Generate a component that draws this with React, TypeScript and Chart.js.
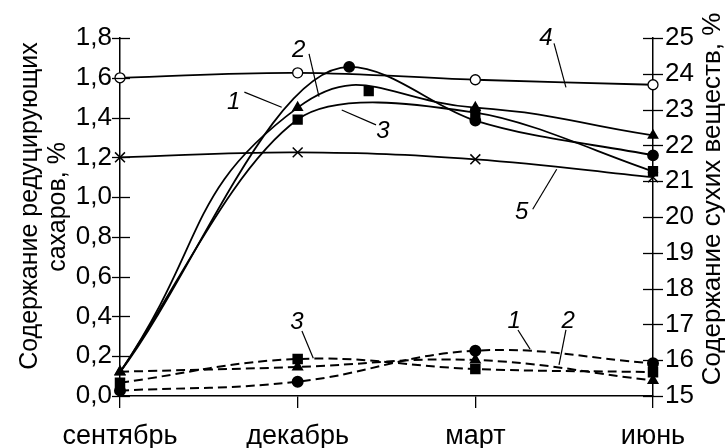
import React, { useEffect, useRef } from 'react';
import { Chart, registerables } from 'chart.js';

Chart.register(...registerables);

// Months on the horizontal axis (index positions 0..3)
const months = ['сентябрь', 'декабрь', 'март', 'июнь'];
const monthPos = [0, 1, 2, 3];

// Solid curves, values on the left scale (the right scale is aligned: 0 → 15, 1.8 → 25)
const solid1X = [0, 1.29, 2, 3];
const solid1 = [0.12, 1.655, 1.385, 1.21];
const solid2 = [0.12, 1.45, 1.45, 1.31];
const solid3 = [0.12, 1.39, 1.425, 1.13];
const solid4 = [1.6, 1.625, 1.59, 1.565];
const solid5 = [1.2, 1.225, 1.19, 1.1];
const extraSquareX = [1.4];
const extraSquareY = [1.533];

// Dashed curves (reducing sugars)
const dashed1 = [0.027, 0.072, 0.228, 0.165];
const dashed2 = [0.122, 0.146, 0.181, 0.078];
const dashed3 = [0.067, 0.186, 0.136, 0.12];

const leftTicks = { min: 0, max: 1.8, step: 0.2 };
const rightTicks = { min: 15, max: 25, step: 1 };

const FONT = "'Liberation Sans', Arial, sans-serif";
const INK = '#000';

const pts = (xs: number[], ys: number[]) => ys.map((y, i) => ({ x: xs[i], y }));

// Curve numbers with leader lines, placed in data units [x index, value]
const callouts = [
  { text: '1', at: [0.64, 1.477], from: [0.7, 1.528], to: [0.91, 1.452] },
  { text: '2', at: [1.005, 1.74], from: [1.064, 1.72], to: [1.12, 1.505] },
  { text: '3', at: [1.48, 1.332], from: [1.441, 1.363], to: [1.248, 1.438] },
  { text: '4', at: [2.398, 1.798], from: [2.443, 1.773], to: [2.51, 1.552] },
  { text: '5', at: [2.261, 0.922], from: [2.323, 0.939], to: [2.458, 1.14] },
  { text: '3', at: [0.996, 0.372], from: [1.024, 0.327], to: [1.088, 0.19] },
  { text: '1', at: [2.218, 0.377], from: [2.24, 0.332], to: [2.308, 0.236] },
  { text: '2', at: [2.522, 0.377], from: [2.51, 0.332], to: [2.471, 0.156] },
];

const crossTicks = {
  id: 'crossTicks',
  afterDraw(chart: any) {
    const { ctx, chartArea } = chart;
    ctx.save();
    ctx.strokeStyle = INK;
    ctx.lineWidth = 1.3;
    const drawFor = (scale: any, x: number, outer: number, inner: number, dir: number) => {
      scale.ticks.forEach((t: any) => {
        const y = Math.round(scale.getPixelForValue(t.value)) + 0.5;
        ctx.beginPath();
        ctx.moveTo(x - dir * outer, y);
        ctx.lineTo(x + dir * inner, y);
        ctx.stroke();
      });
    };
    drawFor(chart.scales.y, chartArea.left, 8, 10, 1);
    drawFor(chart.scales.y2, chartArea.right, 10, 10, -1);
    ctx.restore();
  },
};

const axisTitles = {
  id: 'axisTitles',
  afterDraw(chart: any) {
    const { ctx, chartArea } = chart;
    const midY = (chartArea.top + chartArea.bottom) / 2;
    ctx.save();
    ctx.fillStyle = INK;
    ctx.textAlign = 'center';
    ctx.textBaseline = 'middle';
    const vertical = (text: string, x: number, y: number, size: number) => {
      ctx.save();
      ctx.translate(x, y);
      ctx.rotate(-Math.PI / 2);
      ctx.font = `${size}px ${FONT}`;
      ctx.fillText(text, 0, 0);
      ctx.restore();
    };
    vertical('Содержание редуцирующих', chartArea.left - 90, midY - 11, 25);
    vertical('сахаров, %', chartArea.left - 62, midY - 10, 25);
    vertical('Содержание сухих веществ, %', chartArea.right + 60, midY - 18, 26);
    ctx.restore();
  },
};

const curveLabels = {
  id: 'curveLabels',
  afterDraw(chart: any) {
    const { ctx } = chart;
    const xs = chart.scales.x;
    const ys = chart.scales.y;
    const px = (p: number[]) => [xs.getPixelForValue(p[0]), ys.getPixelForValue(p[1])];
    ctx.save();
    ctx.strokeStyle = INK;
    ctx.fillStyle = INK;
    ctx.lineWidth = 1.2;
    ctx.font = `italic 24px ${FONT}`;
    ctx.textAlign = 'center';
    ctx.textBaseline = 'middle';
    callouts.forEach((c) => {
      const [ax, ay] = px(c.at);
      const [fx, fy] = px(c.from);
      const [tx, ty] = px(c.to);
      ctx.fillText(c.text, ax, ay);
      ctx.beginPath();
      ctx.moveTo(fx, fy);
      ctx.lineTo(tx, ty);
      ctx.stroke();
    });
    ctx.restore();
  },
};

const solidLine = { borderColor: INK, borderWidth: 1.8, pointBorderColor: INK, pointBackgroundColor: INK, fill: false };
const dashedLine = { ...solidLine, borderWidth: 2, borderDash: [9, 5] };

export default function App() {
  const canvasRef = useRef<HTMLCanvasElement | null>(null);

  useEffect(() => {
    if (!canvasRef.current) return;
    const chart = new Chart(canvasRef.current, {
      type: 'line',
      data: {
        datasets: [
          { ...solidLine, data: pts(solid1X, solid1), cubicInterpolationMode: 'monotone', pointStyle: 'circle', pointRadius: [0, 5, 5, 5] },
          { ...solidLine, data: pts(monthPos, solid2), tension: 0.5, pointStyle: 'triangle', pointRadius: 5 },
          { ...solidLine, data: pts(monthPos, solid3), tension: 0.3, pointStyle: 'rect', pointRadius: [0, 6, 6, 6] },
          { ...solidLine, data: pts(monthPos, solid4), tension: 0.4, pointStyle: 'circle', pointRadius: 5, pointBackgroundColor: '#fff', pointBorderWidth: 1.3 },
          { ...solidLine, data: pts(monthPos, solid5), tension: 0.4, pointStyle: 'crossRot', pointRadius: 7, pointBorderWidth: 1.5 },
          { ...solidLine, data: pts(extraSquareX, extraSquareY), showLine: false, pointStyle: 'rect', pointRadius: 6 },
          { ...dashedLine, data: pts(monthPos, dashed1), tension: 0.4, pointStyle: 'circle', pointRadius: 5 },
          { ...dashedLine, data: pts(monthPos, dashed2), tension: 0.4, pointStyle: 'triangle', pointRadius: 5 },
          { ...dashedLine, data: pts(monthPos, dashed3), tension: 0.4, pointStyle: 'rect', pointRadius: 6 },
        ] as any,
      },
      options: {
        responsive: false,
        animation: false,
        devicePixelRatio: 1,
        layout: { padding: { top: 38, left: 0, right: 0, bottom: 0 } },
        plugins: { legend: { display: false }, tooltip: { enabled: false } },
        elements: { point: { hoverRadius: 5 } },
        datasets: { line: { clip: false as any } },
        scales: {
          x: {
            type: 'linear',
            min: 0,
            max: 3,
            afterFit: (s: any) => { s.height = 52; },
            ticks: {
              stepSize: 1,
              autoSkip: false,
              maxRotation: 0,
              padding: 12,
              color: INK,
              font: { family: FONT, size: 27 },
              callback: (v: any) => months[Math.round(Number(v))] ?? '',
            },
            grid: { display: true, drawOnChartArea: false, drawTicks: true, tickLength: 12, color: INK, lineWidth: 1.3 },
            border: { display: true, color: INK, width: 1.5 },
          },
          y: {
            type: 'linear',
            position: 'left',
            min: leftTicks.min,
            max: leftTicks.max,
            afterFit: (s: any) => { s.width = 120; },
            ticks: {
              stepSize: leftTicks.step,
              padding: 8,
              color: INK,
              font: { family: FONT, size: 26 },
              callback: (v: any) => Number(v).toFixed(1).replace('.', ','),
            },
            grid: { display: false, drawTicks: false },
            border: { display: true, color: INK, width: 1.5 },
          },
          y2: {
            type: 'linear',
            position: 'right',
            min: rightTicks.min,
            max: rightTicks.max,
            afterFit: (s: any) => { s.width = 75; },
            ticks: {
              stepSize: rightTicks.step,
              padding: 12,
              color: INK,
              font: { family: FONT, size: 26 },
              callback: (v: any) => String(Math.round(Number(v))),
            },
            grid: { display: false, drawTicks: false },
            border: { display: true, color: INK, width: 1.5 },
          },
        },
      },
      plugins: [crossTicks, axisTitles, curveLabels],
    } as any);
    return () => chart.destroy();
  }, []);

  return (
    <canvas
      ref={canvasRef}
      width={728}
      height={448}
      style={{ position: 'fixed', left: 0, top: 0, display: 'block', background: '#fff' }}
    />
  );
}
